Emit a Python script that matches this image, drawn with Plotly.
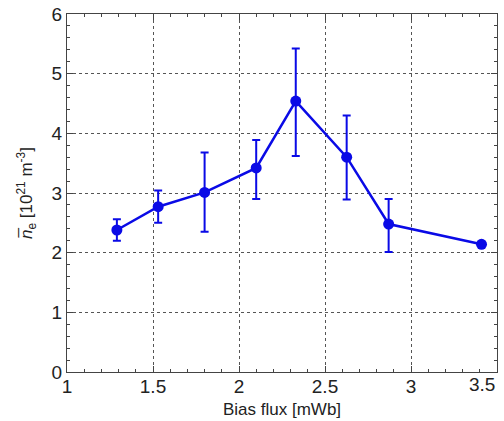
import plotly.graph_objects as go

bias_flux = [1.29, 1.53, 1.80, 2.10, 2.33, 2.626, 2.87, 3.41]
density = [2.38, 2.77, 3.01, 3.42, 4.54, 3.60, 2.48, 2.14]
err_plus = [0.18, 0.27, 0.67, 0.47, 0.88, 0.70, 0.42, 0.0]
err_minus = [0.18, 0.27, 0.66, 0.52, 0.92, 0.71, 0.47, 0.0]

x_ticks = [1, 1.5, 2, 2.5, 3, 3.5]
x_tick_labels = ["1", "1.5", "2", "2.5", "3", "3.5"]
y_ticks = [0, 1, 2, 3, 4, 5, 6]
x_title = "Bias flux [mWb]"

blue = "#0a0ae6"

fig = go.Figure()
fig.add_trace(go.Scatter(
    x=bias_flux, y=density, mode="lines+markers",
    line=dict(color=blue, width=2.5),
    marker=dict(color=blue, size=11),
    error_y=dict(type="data", symmetric=False, array=err_plus, arrayminus=err_minus,
                 color=blue, thickness=2, width=4),
    showlegend=False,
    cliponaxis=False,
))

axis_common = dict(
    showline=True, linecolor="#444", linewidth=1, mirror="ticks",
    ticks="inside", ticklen=6, tickcolor="#444",
    showgrid=True, gridcolor="#555", griddash="dot", gridwidth=1,
    zeroline=False, automargin=False,
    tickfont=dict(family="Liberation Sans, Arial", size=19, color="#222"),
)

# the last x tick label is right-aligned to the axis end, drawn as an annotation
shown_x_labels = x_tick_labels[:-1] + [""]

fig.update_layout(
    width=504, height=421,
    margin=dict(l=67, r=7, t=14, b=49),
    paper_bgcolor="white", plot_bgcolor="white",
    font=dict(family="Liberation Sans, Arial", color="#222"),
    xaxis=dict(
        range=[1, 3.5], tickvals=x_ticks, ticktext=shown_x_labels,
        minor=dict(ticks="inside", dtick=0.1, ticklen=3, tickcolor="#444", showgrid=False),
        ticklabelstandoff=-3,
        **axis_common,
    ),
    yaxis=dict(
        range=[0, 6], tickvals=y_ticks,
        minor=dict(ticks="inside", dtick=0.2, ticklen=3, tickcolor="#444", showgrid=False),
        title=dict(text="<i>n̅</i><sub>e</sub> [10<sup>21</sup> m<sup>-3</sup>]", font=dict(size=17), standoff=14),
        **axis_common,
    ),
    annotations=[
        dict(x=x_ticks[-1], y=0, xref="x", yref="y", text=x_tick_labels[-1],
             xanchor="right", yanchor="top", yshift=0, showarrow=False,
             font=dict(family="Liberation Sans, Arial", size=19, color="#222")),
        dict(x=0.5, y=0, xref="paper", yref="paper", text=x_title,
             xanchor="center", yanchor="middle", yshift=-37, showarrow=False,
             font=dict(family="Liberation Sans, Arial", size=17, color="#222")),
    ],
)

fig.write_html("out.html", config={"displayModeBar": False},
               post_script="document.body.style.margin='0';")
